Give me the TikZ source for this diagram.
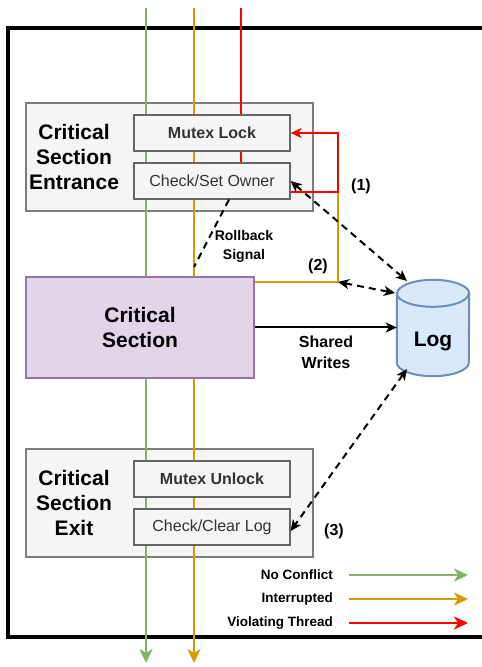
\documentclass[tikz,border=0pt]{standalone}
\usepackage{fontspec}
\setmainfont{Liberation Sans}
\usetikzlibrary{arrows.meta,calc}
\definecolor{okgreen}{HTML}{82B366}
\definecolor{intorange}{HTML}{D79B00}
\definecolor{violred}{HTML}{FF0000}
\definecolor{grpfill}{HTML}{F5F5F5}
\definecolor{grpline}{HTML}{666666}
\definecolor{csfill}{HTML}{E1D5E7}
\definecolor{csline}{HTML}{9673A6}
\definecolor{logfill}{HTML}{DAE8FC}
\definecolor{logline}{HTML}{6C8EBF}
\definecolor{boxtext}{HTML}{333333}

\begin{document}
\begin{tikzpicture}[x=1pt,y=1pt,>={Stealth[length=11pt,width=10pt,inset=3pt]},
  grp/.style={draw=grpline!85,line width=2.5pt,fill=grpfill,minimum width=287pt,minimum height=108pt,inner sep=0pt},
  stepbox/.style={draw=grpline,line width=1.2pt,fill=grpfill,minimum width=156pt,minimum height=36pt,inner sep=0pt,text=boxtext,font=\fontsize{16}{18}\selectfont},
  thread/.style={line width=2.4pt,-{Stealth[length=14pt,width=13pt,inset=4pt]}},
  dashconn/.style={line width=2pt,dash pattern=on 7pt off 5pt,<->},
  biglabel/.style={align=center,font=\bfseries\fontsize{21}{25}\selectfont},
  note/.style={font=\bfseries\fontsize{16}{20}\selectfont},
  legendtxt/.style={anchor=east,inner sep=0pt,font=\bfseries\fontsize{13.5}{16}\selectfont}]
\useasboundingbox (0,0) rectangle (482,667);

% outer frame, open on the right
\draw[line width=3.5pt] (492,639) -| (8,30) -- (492,30);

% stage groups
\node[grp] (entr) at (169.5,510) {};
\node[grp] (exitg) at (169.5,164) {};

% threads
\coordinate (gtop) at (146,659);
\coordinate (gbot) at (146,4);
\coordinate (otop) at (194,659);
\coordinate (obot) at (194,4);
\coordinate (rtop) at (241,659);
\coordinate (rend) at (241,486);
\draw[thread,okgreen] (gtop) -- (gbot);
\draw[thread,intorange] (otop) -- (obot);
\draw[line width=2.4pt,violred] (rtop) -- (rend);

% steps
\node[stepbox,font=\bfseries\fontsize{16}{18}\selectfont] (ml) at (212,534) {Mutex Lock};
\node[stepbox] (cso) at (212,486) {Check/Set Owner};
\node[stepbox,font=\bfseries\fontsize{16}{18}\selectfont] (mu) at (212,188) {Mutex Unlock};
\node[stepbox] (ccl) at (212,140) {Check/Clear Log};
\node[draw=csline,line width=2.5pt,fill=csfill,minimum width=228pt,minimum height=101pt,inner sep=0pt,biglabel] (cs) at (140,339.5) {Critical\\Section};

\node[biglabel] (entrtxt) at (74,510) {Critical\\Section\\Entrance};
\node[biglabel] (exittxt) at (74,164) {Critical\\Section\\Exit};

% log store
\node[minimum width=72pt,minimum height=96pt,inner sep=0pt] (log) at (433,339) {};
\draw[logline,fill=logfill,line width=2pt] ($(log.north west)+(0,-13.5)$) -- ($(log.south west)+(0,13.5)$)
  arc[start angle=180,end angle=360,x radius=36pt,y radius=13.5pt]
  -- ($(log.north east)+(0,-13.5)$)
  arc[start angle=0,end angle=180,x radius=36pt,y radius=13.5pt] -- cycle;
\draw[logline,line width=2pt] ($(log.north west)+(0,-13.5)$) arc[start angle=180,end angle=360,x radius=36pt,y radius=13.5pt];
\node[font=\bfseries\fontsize{21}{25}\selectfont] (logtxt) at ($(log.center)+(0,-14)$) {Log};

% rollback path of an interrupted thread
\coordinate (c1) at (338,475);
\coordinate (c2) at (338,385);
\draw[line width=2.4pt,intorange] (c1) -- (c2) -- (cs.east |- c2);
\draw[line width=2.4pt,violred,->] (cso.east |- c1) -- (c1) |- (ml.east);

% log traffic
\coordinate (logtl) at (407,386);
\coordinate (logl) at (395,374);
\coordinate (logbl) at (407,298);
\coordinate (rb) at (194,400);
\draw[dashconn] (cso.east) -- (logtl);
\draw[dashconn] (c2) -- (logl);
\draw[dashconn] (logbl) -- ($(ccl.east)+(0,-4)$);
\draw[line width=2pt,dash pattern=on 7pt off 5pt] ($(cso.south)+(17,0)$) -- (rb);
\draw[line width=2pt,->] (cs.east) -- node[below=4pt,align=center,font=\bfseries\fontsize{16}{21}\selectfont] {Shared\\Writes} (cs.east -| log.west);

\node[align=center,font=\bfseries\fontsize{14}{19}\selectfont] (rbtxt) at (244,421) {Rollback\\Signal};
\node[note] (n1) at (361,481) {(1)};
\node[note] (n2) at (318,401) {(2)};
\node[note] (n3) at (334,136) {(3)};

% legend
\node[legendtxt] (lg1) at (333,92) {No Conflict};
\node[legendtxt] (lg2) at (333,68) {Interrupted};
\node[legendtxt] (lg3) at (333,44) {Violating Thread};
\draw[thread,okgreen] ($(lg1.east)+(16,0)$) -- ($(lg1.east)+(135,0)$);
\draw[thread,intorange] ($(lg2.east)+(16,0)$) -- ($(lg2.east)+(135,0)$);
\draw[thread,violred] ($(lg3.east)+(16,0)$) -- ($(lg3.east)+(135,0)$);
\end{tikzpicture}
\end{document}
